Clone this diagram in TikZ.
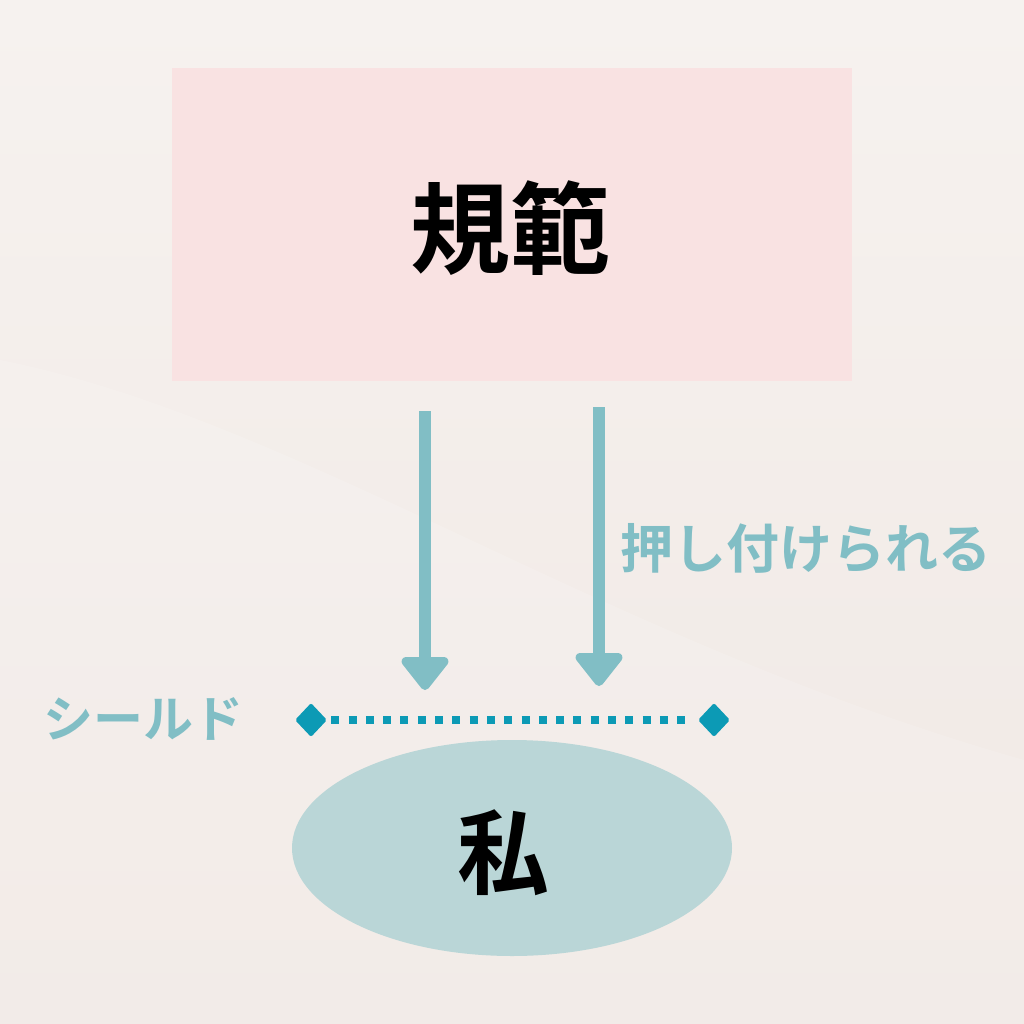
\documentclass[tikz,border=0pt]{standalone}
\usepackage{fontspec}
\newfontfamily\jp{Noto Sans CJK JP}
\newfontfamily\jpb{Noto Sans CJK JP Bold}
\usetikzlibrary{arrows.meta,shapes.geometric}
\definecolor{bgA}{RGB}{246,242,239}
\definecolor{bgB}{RGB}{240,232,228}
\definecolor{pinkbox}{RGB}{249,226,226}
\definecolor{arrowc}{RGB}{129,190,197}
\definecolor{dotc}{RGB}{12,154,181}
\definecolor{ellc}{RGB}{186,214,215}
\tikzset{
  pushar/.style={draw=arrowc, fill=arrowc, line width=12pt, -{Triangle[width=54pt,length=36pt,round]}},
  endpt/.style={diamond, fill=dotc, minimum width=32pt, minimum height=34pt, inner sep=0pt, rounded corners=2pt},
  labeltext/.style={text=arrowc, inner sep=0pt},
}
\begin{document}
\begin{tikzpicture}[x=1pt,y=-1pt]
\useasboundingbox (0,0) rectangle (1024,1024);
\shade[top color=bgA, bottom color=bgB] (0,0) rectangle (1024,1024);
\fill[white, opacity=0.15] (0,360) .. controls (300,420) and (600,640) .. (1024,760) -- (1024,1024) -- (0,1024) -- cycle;
\node[fill=pinkbox, minimum width=680pt, minimum height=313pt, inner sep=0pt] (norm) at (512,224.5) {};
\node (normt) at (510,228) {\fontsize{100}{100}\selectfont\jpb 規範};
\node[ellipse, fill=ellc, minimum width=440pt, minimum height=216pt, inner sep=0pt] (me) at (512,848) {};
\node (met) at (503,853) {\fontsize{92}{92}\selectfont\jpb 私};
\coordinate (a1s) at (425,411);
\coordinate (a1e) at (425,690);
\coordinate (a2s) at (599,407);
\coordinate (a2e) at (599,686);
\draw[pushar] (a1s) -- (a1e);
\draw[pushar] (a2s) -- (a2e);
\node[endpt] (dl) at (311,720) {};
\node[endpt] (dr) at (714,720) {};
\draw[dotc, line width=8pt, dash pattern=on 8pt off 9.3pt] (dl.east) ++(4,0) -- ([xshift=-4pt]dr.west);
\node[labeltext, anchor=west] (push) at (620,548) {\fontsize{53}{53}\selectfont\jpb 押し付けられる};
\node[labeltext, anchor=west] (shield) at (43,719) {\fontsize{50}{50}\selectfont\jpb シールド};
\end{tikzpicture}
\end{document}
